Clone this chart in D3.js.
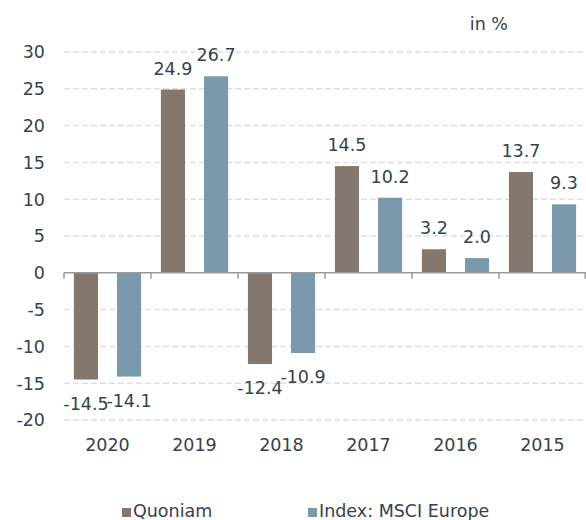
<html>
<head>
    <meta charset="utf-8">
    <title>Quoniam vs MSCI Europe</title>
    <script src="https://d3js.org/d3.v7.min.js" charset="utf-8"></script>
    <style>
        body { margin: 0; background: #fff; }
        text { font-family: "DejaVu Sans", Verdana, sans-serif; fill: #36424c; }
    </style>
</head>
<body>
    <div id="chart"></div>
    <script>
        // data
        const years = ["2020", "2019", "2018", "2017", "2016", "2015"];
        const quoniam = [-14.5, 24.9, -12.4, 14.5, 3.2, 13.7];
        const msci = [-14.1, 26.7, -10.9, 10.2, 2.0, 9.3];
        const seriesNames = ["Quoniam", "Index: MSCI Europe"];
        const colors = ["#84786e", "#7a99ad"];
        const yTicks = [30, 25, 20, 15, 10, 5, 0, -5, -10, -15, -20];

        let width = 586,
            height = 520,
            plotLeft = 64,
            plotRight = 586,
            plotTop = 52,
            plotBottom = 420,
            fontSize = 17.5;

        const svg = d3.select("#chart").append("svg")
            .attr("width", width)
            .attr("height", height);

        const y = d3.scaleLinear().domain([-20, 30]).range([plotBottom, plotTop]);
        const x0 = d3.scaleBand().domain(years).range([plotLeft, plotRight]);
        const x1 = d3.scaleBand().domain(seriesNames).range([0, x0.bandwidth()])
            .paddingInner(0.44).paddingOuter(0.23);

        // gridlines
        svg.append("g").selectAll("line")
            .data(yTicks.filter(d => d != 0))
            .enter().append("line")
            .attr("x1", plotLeft).attr("x2", plotRight)
            .attr("y1", d => y(d)).attr("y2", d => y(d))
            .style("stroke", "#e0e0e0")
            .style("stroke-width", 1.5)
            .style("stroke-dasharray", "6,3");

        // y labels
        svg.append("g").selectAll("text")
            .data(yTicks)
            .enter().append("text")
            .attr("x", 45)
            .attr("y", d => y(d))
            .attr("dy", "0.36em")
            .attr("text-anchor", "end")
            .style("font-size", fontSize + "px")
            .text(d => d);

        // bars
        const rows = years.map((yr, i) => ({ year: yr, values: [quoniam[i], msci[i]] }));
        const groups = svg.append("g").selectAll("g")
            .data(rows)
            .enter().append("g")
            .attr("transform", d => `translate(${x0(d.year)},0)`);

        groups.selectAll("rect")
            .data(d => d.values.map((v, j) => ({ name: seriesNames[j], value: v, j: j })))
            .enter().append("rect")
            .attr("x", d => x1(d.name))
            .attr("width", x1.bandwidth())
            .attr("y", d => y(Math.max(0, d.value)))
            .attr("height", d => Math.abs(y(d.value) - y(0)))
            .style("fill", d => colors[d.j]);

        groups.selectAll("text")
            .data(d => d.values.map((v, j) => ({ name: seriesNames[j], value: v })))
            .enter().append("text")
            .attr("x", d => x1(d.name) + x1.bandwidth() / 2)
            .attr("y", d => d.value >= 0 ? y(d.value) - 15 : y(d.value) + 30)
            .attr("text-anchor", "middle")
            .style("font-size", fontSize + "px")
            .text(d => d.value.toFixed(1));

        // zero axis
        const axis = svg.append("g");
        axis.append("line")
            .attr("x1", plotLeft).attr("x2", plotRight)
            .attr("y1", y(0)).attr("y2", y(0))
            .style("stroke", "#9a9a9a")
            .style("stroke-width", 1.5);
        axis.selectAll(".tick")
            .data(years.map(d => x0(d)).concat([plotRight]))
            .enter().append("line")
            .attr("class", "tick")
            .attr("x1", d => Math.min(d, plotRight - 0.75)).attr("x2", d => Math.min(d, plotRight - 0.75))
            .attr("y1", y(0)).attr("y2", y(0) + 6)
            .style("stroke", "#9a9a9a")
            .style("stroke-width", 1.5);

        // year labels
        svg.append("g").selectAll("text")
            .data(years)
            .enter().append("text")
            .attr("x", d => x0(d) + x0.bandwidth() / 2)
            .attr("y", 451)
            .attr("text-anchor", "middle")
            .style("font-size", fontSize + "px")
            .text(d => d);

        // unit
        svg.append("text")
            .attr("x", 508).attr("y", 30)
            .attr("text-anchor", "end")
            .style("font-size", fontSize + "px")
            .text("in %");

        // legend
        const legendX = [122, 308];
        const legend = svg.append("g").selectAll("g")
            .data(seriesNames)
            .enter().append("g")
            .attr("transform", (d, i) => `translate(${legendX[i]},508)`);
        legend.append("rect")
            .attr("width", 9).attr("height", 9)
            .style("fill", (d, i) => colors[i]);
        legend.append("text")
            .attr("x", 11).attr("y", 9)
            .style("font-size", fontSize + "px")
            .text(d => d);
    </script>
</body>
</html>
